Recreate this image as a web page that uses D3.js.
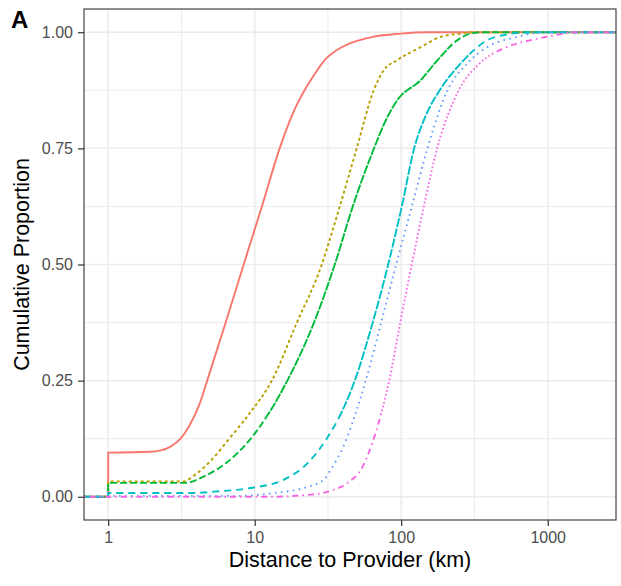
<!DOCTYPE html>
<html>
<head>
<meta charset="utf-8">
<script src="https://cdn.jsdelivr.net/npm/d3@7"></script>
<style>
  body { margin: 0; background: #fff; }
  text { font-family: "Liberation Sans", Arial, sans-serif; }
</style>
</head>
<body>
<script>
// series: ECDF of distance to provider
let groups = ["g1", "g2", "g3", "g4", "g5", "g6"];
let colors = ["#F8766D", "#B79F00", "#00BA38", "#00BFC4", "#619CFF", "#F564E3"];
// dash for the flat tails, and for the steep middle (where the many small steps look denser)
let tailDash = [null, [3, 3], [7, 3], [7, 5], [1.6, 4.4], [1.6, 4, 6, 4]];
let midDash = [null, [3, 2.5], [9, 1.2], [9, 1.6], [1.6, 3.8], [1.6, 2.4]];

let dist1 = [1, 1.95, 2.28, 2.67, 3.12, 3.54, 4.21, 4.74, 6.34, 8.41, 11.2, 14.8, 18.2, 21.9, 25.7, 30.0, 35.7, 43.8, 63.9, 99.3, 147, 2000];
let prop1 = [0.095, 0.097, 0.1, 0.108, 0.125, 0.15, 0.2, 0.25, 0.375, 0.5, 0.625, 0.75, 0.825, 0.875, 0.91, 0.94, 0.96, 0.975, 0.99, 0.997, 1, 1];

let dist2 = [1, 3.2, 4.06, 5.1, 6.7, 9.25, 13.1, 19.4, 28.7, 33.0, 38.0, 49.7, 64.9, 75.9, 94, 136, 186, 255, 313, 2000];
let prop2 = [0.033, 0.033, 0.051, 0.08, 0.125, 0.18, 0.25, 0.375, 0.5, 0.56, 0.624, 0.75, 0.875, 0.918, 0.94, 0.968, 0.99, 0.997, 1, 1];

let dist3 = [1, 3.38, 4.51, 6.34, 9.39, 12.9, 16.7, 25.4, 35.2, 46.6, 65.2, 78.4, 94.2, 136, 177, 242, 298, 366, 2000];
let prop3 = [0.03, 0.03, 0.044, 0.072, 0.125, 0.187, 0.25, 0.375, 0.5, 0.624, 0.75, 0.81, 0.854, 0.897, 0.94, 0.983, 0.997, 1, 1];

let dist4 = [1, 3.66, 5.28, 9.39, 15.85, 22.9, 31.0, 39.9, 48.2, 63.9, 81.5, 100.8, 122.6, 149.3, 183, 255, 331, 387, 503, 766, 2000];
let prop4 = [0.008, 0.008, 0.011, 0.019, 0.037, 0.072, 0.125, 0.187, 0.25, 0.375, 0.5, 0.624, 0.75, 0.825, 0.875, 0.933, 0.968, 0.983, 0.994, 1, 1];

let dist5 = [1, 8.02, 13.5, 21.7, 29.7, 33.0, 36.3, 41.2, 49.7, 57.3, 73.0, 92.4, 118, 151, 207, 283, 387, 621, 940, 2000];
let prop5 = [0.002, 0.002, 0.008, 0.019, 0.037, 0.058, 0.08, 0.115, 0.187, 0.25, 0.375, 0.5, 0.624, 0.75, 0.875, 0.933, 0.968, 0.99, 1, 1];

let dist6 = [1, 12.9, 20.6, 29.1, 34.6, 43.1, 54.6, 64.9, 74.2, 82.8, 98.4, 118, 142.5, 176, 247, 344, 525, 766, 1151, 1436, 2000];
let prop6 = [0, 0, 0.003, 0.008, 0.015, 0.03, 0.065, 0.125, 0.187, 0.25, 0.375, 0.5, 0.624, 0.75, 0.875, 0.933, 0.968, 0.983, 0.994, 1, 1];

let allDist = [dist1, dist2, dist3, dist4, dist5, dist6];
let allProp = [prop1, prop2, prop3, prop4, prop5, prop6];

let xTicks = [1, 10, 100, 1000];
let xMinor = [Math.sqrt(10), Math.sqrt(1000), Math.sqrt(100000)];
let yTicks = [0, 0.25, 0.5, 0.75, 1];
let yMinor = [0.125, 0.375, 0.625, 0.875];

let width = 621,
    height = 586;

let margin = {
    left: 84,
    right: 5,
    top: 9,
    bottom: 66
};

let innerW = width - margin.left - margin.right,
    innerH = height - margin.top - margin.bottom;

// ggplot-like 5% expansion on the log scale
let lo = Math.log10(1), hi = Math.log10(2000);
let pad = (hi - lo) * 0.05;
let x = d3.scaleLog()
    .domain([Math.pow(10, lo - pad), Math.pow(10, hi + pad)])
    .range([0, innerW]);

let y = d3.scaleLinear()
    .domain([-0.05, 1.05])
    .range([innerH, 0]);

let svg = d3.select("body")
    .append("svg")
    .attr("width", width)
    .attr("height", height);

svg.append("rect").attr("width", width).attr("height", height).attr("fill", "#fff");

let chartGroup = svg.append("g")
    .attr("transform", `translate(${margin.left},${margin.top})`);

// grid
chartGroup.selectAll(".ymin").data(yMinor).enter().append("line")
    .attr("x1", 0).attr("x2", innerW)
    .attr("y1", d => y(d)).attr("y2", d => y(d))
    .attr("stroke", "#EBEBEB").attr("stroke-width", 1);
chartGroup.selectAll(".xmin").data(xMinor).enter().append("line")
    .attr("y1", 0).attr("y2", innerH)
    .attr("x1", d => x(d)).attr("x2", d => x(d))
    .attr("stroke", "#EBEBEB").attr("stroke-width", 1);
chartGroup.selectAll(".ymaj").data(yTicks).enter().append("line")
    .attr("x1", 0).attr("x2", innerW)
    .attr("y1", d => y(d)).attr("y2", d => y(d))
    .attr("stroke", "#EBEBEB").attr("stroke-width", 1.5);
chartGroup.selectAll(".xmaj").data(xTicks).enter().append("line")
    .attr("y1", 0).attr("y2", innerH)
    .attr("x1", d => x(d)).attr("x2", d => x(d))
    .attr("stroke", "#EBEBEB").attr("stroke-width", 1.5);

// clip
svg.append("clipPath").attr("id", "clip")
    .append("rect").attr("width", innerW).attr("height", innerH);

let smoothLine = d3.line()
    .x(d => x(d[0]))
    .y(d => y(d[1]))
    .curve(d3.curveMonotoneX);

let xMin = x.domain()[0], xMax = x.domain()[1];

// dash pattern that changes between flat tails and steep middle
function buildDash(node, i) {
    if (!tailDash[i]) return null;
    let total = node.getTotalLength();
    let yA = y(0.15), yB = y(0.95);
    let L1 = null, L2 = total;
    for (let l = 0; l <= total; l += 1) {
        let pt = node.getPointAtLength(l);
        if (L1 === null && pt.y <= yA) L1 = l;
        if (pt.y <= yB) { L2 = l; break; }
    }
    if (L1 === null) L1 = total;
    let arr = [], pos = 0;
    let add = (pattern, until) => {
        while (pos < until) pattern.forEach(v => { arr.push(v); pos += v; });
    };
    add(tailDash[i], L1);
    add(midDash[i], L2);
    add(tailDash[i], total + 10);
    return arr.join(",");
}

groups.forEach((g, i) => {
    let dist = allDist[i], prop = allProp[i];
    let pts = dist.map((d, j) => [d, prop[j]]);
    pts.push([xMax, 1]);

    // lead-in along zero, then the jump at 1 km, then the smooth ECDF
    let d = `M${x(xMin)},${y(0)}L${x(dist[0])},${y(0)}` + smoothLine(pts).replace(/^M/, "L");

    let path = chartGroup.append("path")
        .attr("clip-path", "url(#clip)")
        .attr("d", d)
        .attr("fill", "none")
        .attr("stroke", colors[i])
        .attr("stroke-width", 1.9)
        .attr("stroke-linecap", "butt");
    let dash = buildDash(path.node(), i);
    if (dash) path.attr("stroke-dasharray", dash);
});

// panel border
chartGroup.append("rect")
    .attr("width", innerW).attr("height", innerH)
    .attr("fill", "none").attr("stroke", "#444").attr("stroke-width", 1.2);

// axes
let yAxis = d3.axisLeft(y).tickValues(yTicks).tickFormat(d3.format(".2f")).tickSize(6).tickPadding(5);
let xAxis = d3.axisBottom(x).tickValues(xTicks).tickFormat(d3.format("d")).tickSize(6).tickPadding(6);

let yG = chartGroup.append("g").attr("class", "axis y").call(yAxis);
let xG = chartGroup.append("g").attr("class", "axis x")
    .attr("transform", `translate(0, ${innerH})`).call(xAxis);

[yG, xG].forEach(a => {
    a.select(".domain").remove();
    a.selectAll(".tick line").attr("stroke", "#333").attr("stroke-width", 1.2);
    a.selectAll(".tick text")
        .attr("fill", "#4D4D4D")
        .style("font-size", "16px")
        .style("font-family", "'Liberation Sans', Arial, sans-serif");
});

// titles
svg.append("text")
    .attr("x", margin.left + innerW / 2)
    .attr("y", 567)
    .attr("text-anchor", "middle")
    .style("font-size", "21.5px")
    .attr("fill", "#000")
    .text("Distance to Provider (km)");

svg.append("text")
    .attr("transform", `translate(29, ${margin.top + innerH / 2}) rotate(-90)`)
    .attr("text-anchor", "middle")
    .style("font-size", "21.5px")
    .attr("fill", "#000")
    .text("Cumulative Proportion");

svg.append("text")
    .attr("x", 11)
    .attr("y", 28)
    .style("font-size", "24px")
    .style("font-weight", "bold")
    .attr("fill", "#000")
    .text("A");
</script>
</body>
</html>
